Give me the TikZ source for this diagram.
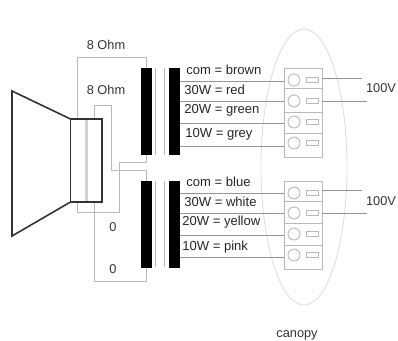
\documentclass[tikz,border=0pt]{standalone}
\usepackage{fontspec}
\setmainfont{Liberation Sans}
\tikzset{
  wire/.style={draw=black!28,line width=0.6pt},
  wirek/.style={draw=black!42,line width=0.6pt},
  bar/.style={fill=black,draw=none},
  spk/.style={draw=black!80,line width=1.2pt,line join=miter},
  term/.style={draw=black!28,line width=0.7pt},
  lab/.style={anchor=west,inner sep=0pt,font=\fontsize{9.8pt}{11pt}\selectfont,text=black!85},
  ctr/.style={inner sep=0pt,font=\fontsize{9.6pt}{11pt}\selectfont,text=black!80}
}
\begin{document}
\begin{tikzpicture}[x=0.75pt,y=-0.75pt]
\useasboundingbox (0,0) rectangle (398,340);
% canopy
\draw[draw=black!14,line width=0.6pt] (304,167) ellipse [x radius=43,y radius=138];
% speaker leads
\draw[wire] (77,119) -- (77,57) -- (146,57) -- (146,68);
\draw[wire] (94,119) -- (94,105) -- (111,105) -- (111,170) -- (146,170) -- (146,181);
\draw[wire] (146,155) -- (146,162) -- (119,162) -- (119,212) -- (77,212) -- (77,202);
\draw[wire] (94,202) -- (94,281) -- (146,281) -- (146,267);
% speaker
\fill[black!18] (85,119) rectangle (88,202);
\draw[spk] (70.5,119) -- (12,91) -- (12,236) -- (70.5,202);
\draw[spk] (70.5,119) rectangle (102,202);
% transformers
\node[bar,minimum width=11pt*0.75,minimum height=87pt*0.75,inner sep=0pt] (t1l) at (146.5,111.5) {};
\node[bar,minimum width=11pt*0.75,minimum height=87pt*0.75,inner sep=0pt] (t1r) at (174.5,111.5) {};
\node[bar,minimum width=11pt*0.75,minimum height=87pt*0.75,inner sep=0pt] (t2l) at (146.5,224) {};
\node[bar,minimum width=11pt*0.75,minimum height=87pt*0.75,inner sep=0pt] (t2r) at (174.5,224) {};
\foreach \cx in {155,164}{
  \draw[wire] (\cx,68) -- (\cx,155);
  \draw[wire] (\cx,181) -- (\cx,267);
}
% secondary wires
\foreach \wy in {81,101,123,146,193,213,235,257}{
  \draw[wirek] (180,\wy) -- (285,\wy);
}
% terminal blocks
\draw[term] (284,68) rectangle (322,157);
\draw[term] (284,88) -- (322,88) (284,112) -- (322,112) (284,133) -- (322,133);
\draw[term] (284,181) rectangle (322,269);
\draw[term] (284,201) -- (322,201) (284,223) -- (322,223) (284,245) -- (322,245);
\foreach \ty in {80,101,122,143,193,213,234,255}{
  \draw[term] (294,\ty) circle [radius=6];
  \draw[term] (306,\ty-2.5) rectangle (318,\ty+2.5);
}
% mains
\draw[wirek] (322,78) -- (362,78);
\draw[wirek] (322,101) -- (367,101);
\draw[wirek] (322,190) -- (362,190);
\draw[wirek] (322,213) -- (367,213);
% labels
\node[ctr] (o1) at (106,45) {8 Ohm};
\node[ctr] (o2) at (106,90) {8 Ohm};
\node[ctr] (z1) at (113,227) {0};
\node[ctr] (z2) at (113,269) {0};
\node[lab] (a1) at (186,70) {com = brown};
\node[lab] (a2) at (184,90) {30W = red};
\node[lab] (a3) at (184,110) {20W = green};
\node[lab] (a4) at (185,134) {10W = grey};
\node[lab] (b1) at (186,182) {com = blue};
\node[lab] (b2) at (184,202) {30W = white};
\node[lab] (b3) at (182,222) {20W = yellow};
\node[lab] (b4) at (182,247) {10W = pink};
\node[ctr] (v1) at (381,88) {100V};
\node[ctr] (v2) at (381,201) {100V};
\node[ctr] (c) at (297,335) {canopy};
\end{tikzpicture}
\end{document}
